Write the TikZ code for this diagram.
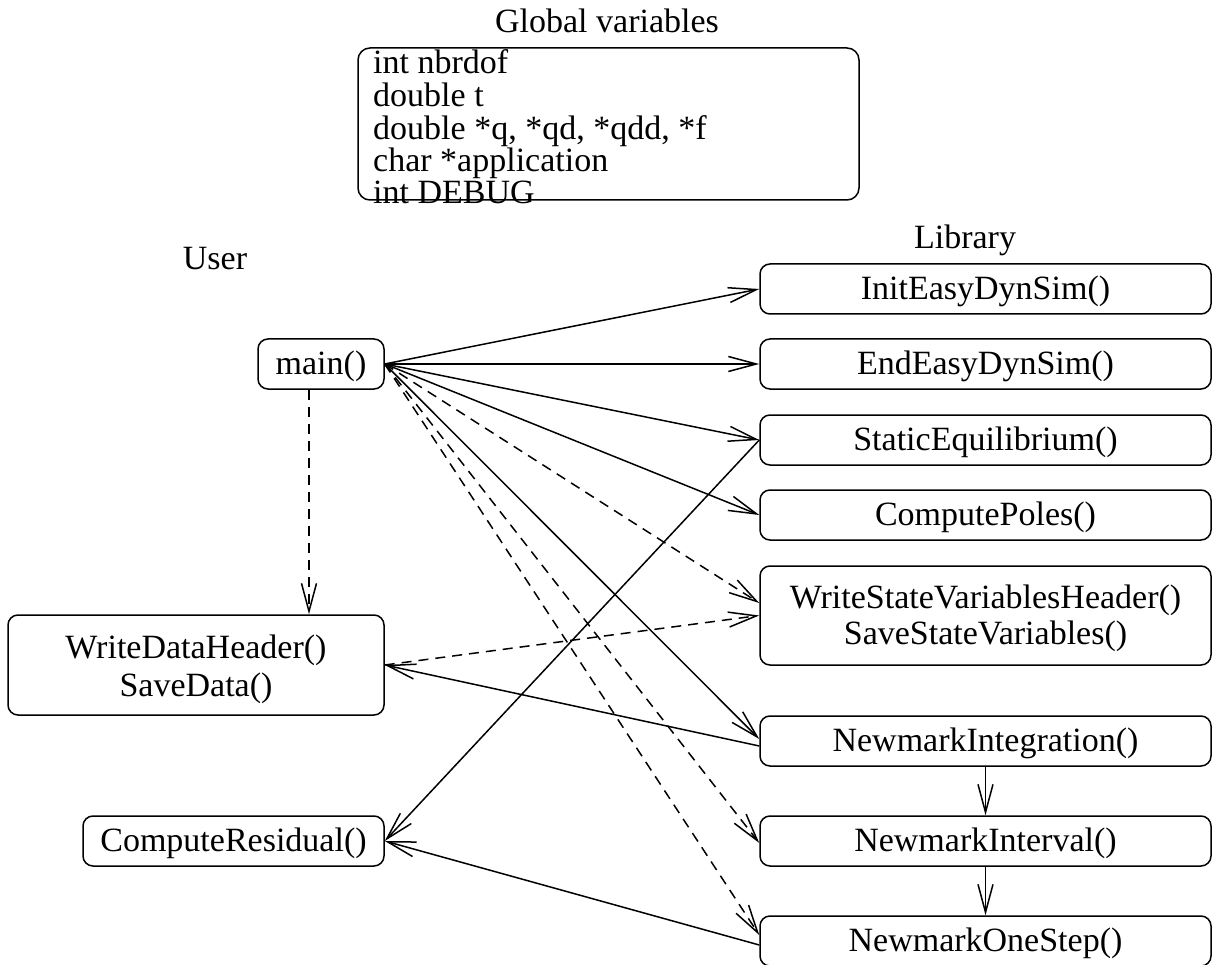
\documentclass[tikz,border=0pt]{standalone}
\usepackage{fontspec}
\setmainfont{Liberation Serif}
\usetikzlibrary{arrows.meta}
\begin{document}
\begin{tikzpicture}[x=1pt,y=-1pt,
  every node/.style={font=\fontsize{34}{38}\selectfont, inner sep=0pt},
  framed/.style={draw, line width=1.5pt, rounded corners=10pt},
  fbox/.style={framed, minimum height=50pt, text height=22pt, text depth=1pt},
  libbox/.style={fbox, minimum width=451pt},
  twoline/.style={framed, minimum height=99pt, text height=30pt, text depth=44pt},
  con/.style={line width=1.5pt, -{Straight Barb[length=28pt,width=15pt]}},
  dcon/.style={con, dash pattern=on 10pt off 7pt},
]
\useasboundingbox (0,0) rectangle (1212,965);

% global variables
\node[anchor=base] (gvtitle) at (607,33) {Global variables};
\node[framed, rounded corners=12pt, minimum width=501pt, minimum height=152pt] (gvbox) at (608.5,124) {};
\node[anchor=base west, font=\fontsize{34}{29.8}\selectfont] (gvtext) at (373,74)
  {\begin{tabular}[t]{@{}l@{}}int nbrdof\\double t\\double *q, *qd, *qdd, *f\\char *application\\int DEBUG\end{tabular}};

% column labels
\node[anchor=base] (user) at (215,270) {User};
\node[anchor=base] (lib) at (965,249) {Library};

% user side
\node[fbox, minimum width=126pt] (main) at (321,364) {main()};
\node[twoline, minimum width=376pt, minimum height=100pt] (wdh) at (196,665)
  {\begin{tabular}[t]{@{}c@{}}WriteDataHeader()\\SaveData()\end{tabular}};
\node[fbox, minimum width=301pt] (cr) at (233.5,841) {ComputeResidual()};

% library side
\node[libbox] (init) at (985.5,289) {InitEasyDynSim()};
\node[libbox] (end) at (985.5,364) {EndEasyDynSim()};
\node[libbox] (stat) at (985.5,440) {StaticEquilibrium()};
\node[libbox] (poles) at (985.5,515) {ComputePoles()};
\node[twoline, minimum width=451pt, font=\fontsize{34}{36}\selectfont] (wsv) at (985.5,615.5)
  {\begin{tabular}[t]{@{}c@{}}WriteStateVariablesHeader()\\SaveStateVariables()\end{tabular}};
\node[libbox] (ni) at (985.5,741) {NewmarkIntegration()};
\node[libbox] (nint) at (985.5,841) {NewmarkInterval()};
\node[libbox] (nos) at (985.5,941) {NewmarkOneStep()};

% connectors from main
\draw[con] (main.east) -- (init.west);
\draw[con] (main.east) -- (end.west);
\draw[con] (main.east) -- (stat.west);
\draw[con] (main.east) -- (poles.west);
\draw[dcon] (main.east) -- ([yshift=12.5pt]wsv.west);
\draw[con] (main.east) -- ([yshift=2pt]ni.west);
\draw[dcon] (main.east) -- ([yshift=-2pt]nint.west);
\draw[dcon] (main.east) -- ([yshift=6pt]nos.west);
\draw[dcon] ([xshift=-12pt]main.south) -- ([xshift=-12pt]main.south |- wdh.north);

% other connectors
\draw[dcon] (wdh.east) -- (wsv.west);
\draw[con] ([yshift=-5pt]ni.west) -- (wdh.east);
\draw[con] (stat.west) -- (cr.east);
\draw[con] ([yshift=-4pt]nos.west) -- (cr.east);
\draw[con] (ni.south) -- (nint.north);
\draw[con] (nint.south) -- (nos.north);
\end{tikzpicture}
\end{document}
